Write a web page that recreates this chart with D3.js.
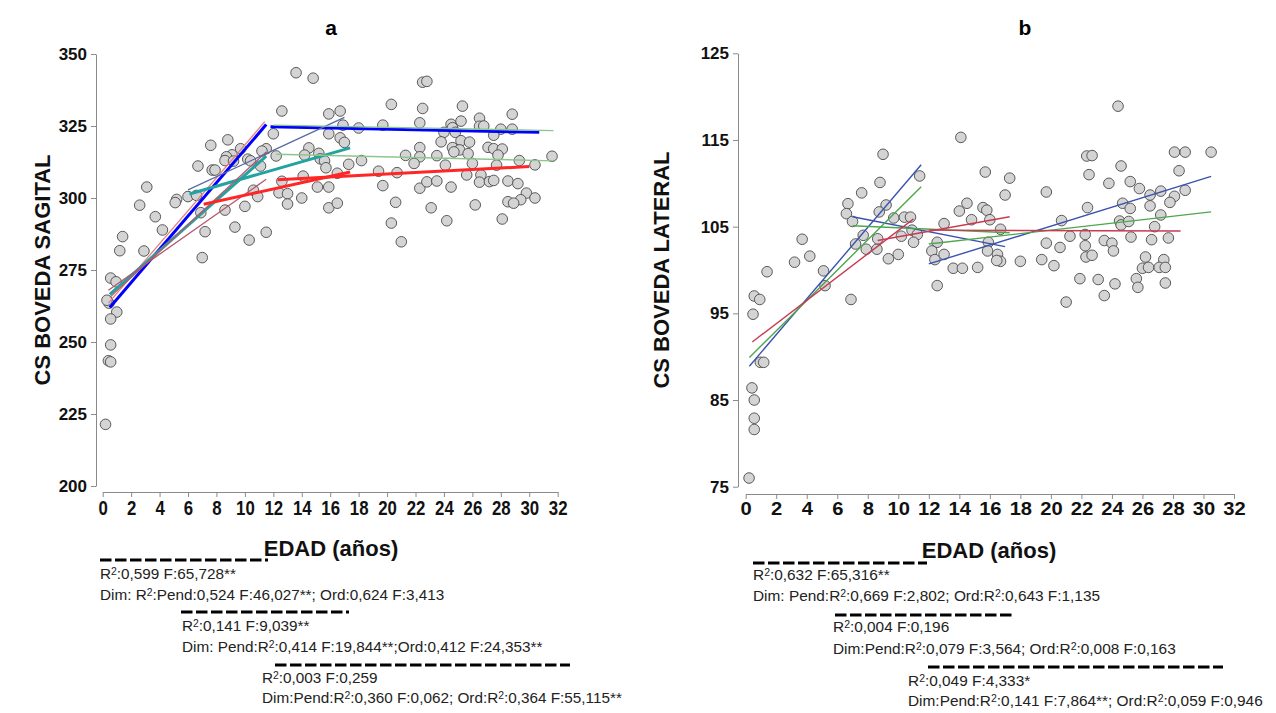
<!DOCTYPE html>
<html>
<head>
<meta charset="utf-8">
<script src="https://cdn.jsdelivr.net/npm/d3@7"></script>
<style>
  body { margin: 0; background: #fff; }
  svg { font-family: "Liberation Sans", Arial, sans-serif; }
</style>
</head>
<body>
<div class="canvas"></div>
<script>
// ---- data ----
// panel a: age (years) and sagittal vault size
const ageA = [13.6, 14.8, 12.6, 15.9, 12.0, 15.9, 8.8, 7.6, 11.5, 11.2, 9.7, 9.1, 8.7, 8.6, 9.2,
  14.5, 14.2, 15.2, 15.3, 15.6, 12.2, 10.2, 10.4, 11.1, 15.7, 6.7, 7.7, 7.9, 14.1, 12.6, 15.9,
  15.1, 3.1, 10.6, 12.4, 13.0, 10.9, 14.0, 6.0, 6.6, 5.2, 5.1, 2.6, 13.0, 15.9, 10.0, 8.6, 6.9,
  3.7, 4.2, 9.3, 7.2, 11.5, 10.3, 1.4, 1.2, 2.9, 7.0, 0.56, 0.94, 0.44, 0.3, 0.99, 0.56, 0.56,
  0.4, 0.56, 0.2, 22.5, 22.8, 20.3, 22.5, 25.3, 28.8, 26.5, 16.7, 16.9, 18.0, 19.7, 22.3, 24.5,
  24.6, 24.8, 25.2, 24.0, 26.5, 26.8, 28.0, 27.5, 28.8, 16.7, 17.0, 23.8, 25.2, 25.8, 22.3,
  24.6, 25.1, 24.7, 27.1, 27.5, 28.1, 25.7, 27.8, 21.3, 22.3, 23.5, 31.6, 29.3, 30.4, 21.9,
  24.1, 26.0, 27.7, 18.2, 17.3, 19.4, 20.7, 16.5, 25.6, 26.6, 19.7, 22.3, 22.8, 23.5, 24.5,
  26.5, 27.2, 27.5, 28.5, 29.2, 29.8, 30.4, 29.4, 28.5, 28.9, 16.5, 20.6, 23.1, 26.2, 20.3,
  24.2, 28.1, 21.0];
const sagital = [343.5, 341.6, 330.2, 329.2, 322.3, 322.3, 320.2, 318.3, 317.1, 316.3, 317.1,
  315.0, 314.3, 313.0, 312.8, 317.4, 314.9, 315.5, 313.6, 312.9, 314.6, 313.5, 312.9, 311.1,
  310.5, 311.1, 309.7, 309.7, 307.6, 305.8, 303.8, 303.8, 303.8, 302.7, 301.8, 301.5, 300.5,
  300.0, 300.5, 300.9, 299.5, 298.4, 297.5, 297.9, 296.6, 297.1, 295.8, 294.9, 293.5, 288.9,
  289.9, 288.3, 288.1, 285.4, 286.6, 281.7, 281.6, 279.3, 272.2, 270.9, 263.5, 264.5, 260.4,
  258.0, 249.0, 243.5, 243.1, 221.4, 340.2, 340.5, 332.5, 331.1, 331.9, 329.1, 327.7, 330.2,
  325.3, 324.3, 325.3, 326.1, 325.6, 324.4, 322.8, 326.7, 322.8, 324.9, 325.0, 323.9, 321.8,
  323.9, 320.9, 319.3, 319.5, 319.9, 319.4, 317.5, 317.5, 316.7, 316.0, 317.6, 317.1, 317.0,
  315.4, 314.9, 314.8, 314.3, 314.7, 314.5, 313.0, 311.5, 312.0, 311.4, 312.0, 311.4, 313.0,
  311.7, 309.3, 308.8, 308.6, 308.0, 308.0, 304.3, 303.4, 305.6, 305.9, 303.8, 305.5, 305.7,
  306.1, 305.9, 305.0, 301.7, 300.0, 299.4, 298.7, 298.2, 298.2, 298.5, 296.6, 297.6, 291.3,
  292.1, 292.7, 284.8];

// panel b: age (years) and lateral vault size
const ageB = [9.0, 11.4, 8.8, 7.6, 6.7, 6.6, 7.0, 9.2, 8.75, 9.7, 10.4, 10.8, 13.0, 7.2, 7.7,
  7.9, 8.6, 8.65, 10.2, 10.9, 11.25, 11.0, 9.35, 10.0, 12.55, 12.2, 12.4, 13.0, 12.55, 3.7,
  3.2, 4.2, 1.4, 5.1, 5.2, 24.4, 14.1, 22.35, 22.7, 28.1, 28.8, 30.5, 24.6, 28.4, 22.5, 15.7,
  17.3, 17.0, 19.7, 23.8, 25.2, 25.8, 26.5, 27.2, 28.1, 28.8, 27.8, 14.5, 14.0, 15.55, 15.8,
  14.8, 16.0, 16.7, 20.7, 22.4, 24.7, 25.2, 26.5, 27.2, 24.5, 24.6, 25.1, 26.8, 22.25, 21.25,
  25.25, 26.6, 27.7, 23.5, 24.0, 24.1, 22.25, 19.7, 20.6, 15.9, 15.85, 16.5, 16.7, 16.45,
  18.0, 19.4, 20.2, 22.3, 22.7, 26.2, 27.4, 26.0, 26.4, 27.1, 27.5, 13.6, 14.2, 15.2, 21.9,
  23.1, 24.2, 25.6, 25.7, 27.5, 21.0, 23.5, 6.9, 0.56, 0.92, 0.48, 0.96, 1.18, 0.41, 0.56,
  0.56, 0.56, 0.22];
const lateral = [113.35, 110.85, 110.1, 108.9, 107.65, 106.5, 105.6, 107.5, 106.7, 106.0,
  106.1, 106.1, 105.35, 103.0, 104.0, 102.4, 102.4, 103.6, 103.9, 104.6, 104.1, 103.2, 101.3,
  101.8, 103.2, 102.2, 101.2, 101.8, 98.2, 103.55, 100.9, 101.6, 99.8, 99.9, 98.2, 118.9,
  115.3, 113.15, 113.2, 113.6, 113.6, 113.6, 112.0, 111.45, 111.0, 111.3, 110.6, 108.65,
  109.0, 110.0, 110.2, 109.4, 108.65, 109.1, 108.5, 109.2, 107.8, 107.7, 106.8, 107.2, 106.9,
  105.8, 105.8, 104.7, 105.7, 107.2, 107.7, 107.1, 107.4, 106.35, 105.65, 105.2, 105.6,
  105.0, 104.1, 103.9, 103.8, 103.5, 103.7, 103.4, 103.1, 102.2, 102.8, 103.1, 102.6, 103.2,
  102.2, 101.8, 101.0, 101.1, 101.0, 101.2, 100.5, 101.5, 101.7, 101.5, 101.2, 100.2, 100.3,
  100.3, 100.3, 100.2, 100.2, 100.3, 99.0, 98.9, 98.4, 99.0, 98.0, 98.5, 96.3, 97.05, 96.6,
  97.0, 96.6, 94.9, 89.35, 89.35, 86.4, 85.0, 82.9, 81.6, 76.0];

// fitted segments [x0, y0, x1, y1] per series
const fitsA = {
  s1: [[0.5, 262.0, 11.5, 325.5], [11.8, 324.7, 30.7, 322.8]],
  s2: [[0.4, 263.5, 11.4, 326.5]],
  s3: [[0.5, 266.5, 11.5, 314.5], [6.1, 301.4, 17.4, 317.4]],
  s4: [[0.5, 265.5, 11.5, 316.0], [0.4, 268.0, 11.5, 306.5]],
  s5: [[6.0, 302.8, 17.0, 328.0]],
  s6: [[7.1, 297.8, 17.4, 309.0], [12.3, 306.3, 30.0, 310.9]],
  s7: [[12.0, 325.3, 31.7, 323.4], [12.2, 315.2, 31.7, 312.9]],
};
const fitsB = {
  blue: [[0.24, 88.9, 11.5, 112.15], [7.0, 106.15, 17.0, 102.7], [12.0, 100.7, 30.5, 110.8]],
  green: [[0.24, 89.9, 11.5, 109.6], [7.0, 105.1, 17.3, 104.3], [12.0, 103.0, 30.5, 106.7]],
  red: [[0.43, 91.7, 11.0, 105.9], [8.65, 103.4, 17.3, 106.15], [12.0, 104.6, 28.5, 104.5]],
};

const xTicks = [0, 2, 4, 6, 8, 10, 12, 14, 16, 18, 20, 22, 24, 26, 28, 30, 32];
const yTicksA = [200, 225, 250, 275, 300, 325, 350];
const yTicksB = [75, 85, 95, 105, 115, 125];

const notesA = [
  ["R²:0,599 F:65,728**", "Dim: R²:Pend:0,524 F:46,027**; Ord:0,624 F:3,413"],
  ["R²:0,141 F:9,039**", "Dim: Pend:R²:0,414 F:19,844**;Ord:0,412 F:24,353**"],
  ["R²:0,003 F:0,259", "Dim:Pend:R²:0,360 F:0,062; Ord:R²:0,364 F:55,115**"],
];
const notesB = [
  ["R²:0,632 F:65,316**", "Dim: Pend:R²:0,669 F:2,802; Ord:R²:0,643 F:1,135"],
  ["R²:0,004 F:0,196", "Dim:Pend:R²:0,079 F:3,564; Ord:R²:0,008 F:0,163"],
  ["R²:0,049 F:4,333*", "Dim:Pend:R²:0,141 F:7,864**; Ord:R²:0,059 F:0,946"],
];

// ---- styles ----
const styleA = {
  s1: { color: "#0000ff", width: 3 },
  s2: { color: "#e58080", width: 1.3 },
  s3: { color: "#22a2a0", width: 3 },
  s4: { color: "#b8566c", width: 1.3 },
  s5: { color: "#5a68a8", width: 1.3 },
  s6: { color: "#ff2626", width: 3 },
  s7: { color: "#8cc68c", width: 1.4 },
};
const styleB = {
  blue: { color: "#3a52ae", width: 1.4 },
  green: { color: "#4ea64e", width: 1.4 },
  red: { color: "#c93a52", width: 1.4 },
};

const svg = d3
  .select(".canvas")
  .append("svg")
  .attr("width", 1276)
  .attr("height", 713);

// panel layouts (pixel positions of the plot frames)
const panels = [
  {
    title: "a", titleX: 331, ylabel: "CS BOVEDA SAGITAL", ylabelX: 42,
    x: d3.scaleLinear().domain([0, 32]).range([102.7, 557.7]),
    y: d3.scaleLinear().domain([200, 350]).range([486, 54]),
    yAxisX: 96, xAxisY: 492, yTicks: yTicksA, xlabelX: 331, xlabelY: 556,
    xFont: 21, xSqueeze: 0.8, yFont: 17, ySqueeze: 1,
    ages: ageA, values: sagital, fits: fitsA, styles: styleA,
    notes: notesA, noteFont: 15.3,
    dashes: [[100, 268, 560], [181, 349, 612], [275, 570, 665]],
    noteX: [100, 182, 262], noteY: [[579, 600], [631, 652], [683, 703]],
  },
  {
    title: "b", titleX: 1025, ylabel: "CS BOVEDA LATERAL", ylabelX: 661,
    x: d3.scaleLinear().domain([0, 32]).range([745.7, 1234]),
    y: d3.scaleLinear().domain([75, 125]).range([486.7, 53.3]),
    yAxisX: 738, xAxisY: 494, yTicks: yTicksB, xlabelX: 989, xlabelY: 558,
    xFont: 18, xSqueeze: 1.12, yFont: 17, ySqueeze: 1,
    ages: ageB, values: lateral, fits: fitsB, styles: styleB,
    notes: notesB, noteFont: 15.4,
    dashes: [[753, 927, 563], [835, 1015, 615], [928, 1223, 667]],
    noteX: [753, 833, 908], noteY: [[580, 601], [632, 654], [686, 706]],
  },
];

const axisColor = "#8a8a8a";

// writes a note line, turning every "²" into a raised small 2
const writeNote = (sel, txt) => {
  const parts = txt.split("²");
  parts.forEach((part, k) => {
    if (k > 0) {
      sel.append("tspan").attr("font-size", "0.68em").attr("dy", "-0.42em").text("2");
      sel.append("tspan").attr("dy", "0.29em").text(part);
    } else {
      sel.append("tspan").text(part);
    }
  });
};

panels.forEach((p) => {
  const g = svg.append("g");

  // x axis
  const xAxis = g
    .append("g")
    .attr("transform", `translate(0, ${p.xAxisY})`)
    .call(d3.axisBottom(p.x).tickValues(xTicks).tickSize(5).tickSizeOuter(0).tickPadding(3));

  // y axis
  const yAxis = g
    .append("g")
    .attr("transform", `translate(${p.yAxisX}, 0)`)
    .call(d3.axisLeft(p.y).tickValues(p.yTicks).tickSize(5).tickSizeOuter(0).tickPadding(4));

  [xAxis, yAxis].forEach((ax) => {
    ax.select(".domain").attr("stroke", axisColor);
    ax.selectAll(".tick line").attr("stroke", axisColor);
    ax.selectAll(".tick text")
      .attr("fill", "#111")
      .attr("font-weight", "bold")
      .attr("font-family", '"Liberation Sans", Arial, sans-serif');
  });
  xAxis.selectAll(".tick text")
    .attr("font-size", p.xFont)
    .attr("transform", `scale(${p.xSqueeze}, 1)`);
  yAxis.selectAll(".tick text")
    .attr("font-size", p.yFont)
    .attr("transform", `scale(${p.ySqueeze}, 1)`);

  // points
  g.append("g")
    .selectAll("circle")
    .data(p.ages.map((a, i) => [a, p.values[i]]))
    .enter()
    .append("circle")
    .attr("cx", (d) => p.x(d[0]))
    .attr("cy", (d) => p.y(d[1]))
    .attr("r", 5.3)
    .attr("fill", "#d4d4d4")
    .attr("stroke", "#4a4a4a")
    .attr("stroke-width", 0.9);

  // fitted lines
  Object.entries(p.fits).forEach(([key, segs]) => {
    g.append("g")
      .selectAll("line")
      .data(segs)
      .enter()
      .append("line")
      .attr("x1", (d) => p.x(d[0]))
      .attr("y1", (d) => p.y(d[1]))
      .attr("x2", (d) => p.x(d[2]))
      .attr("y2", (d) => p.y(d[3]))
      .attr("stroke", p.styles[key].color)
      .attr("stroke-width", p.styles[key].width);
  });

  // titles
  g.append("text")
    .attr("x", p.titleX)
    .attr("y", 35)
    .attr("text-anchor", "middle")
    .attr("font-size", 21)
    .attr("font-weight", "bold")
    .text(p.title);

  g.append("text")
    .attr("transform", `translate(${p.ylabelX + 8}, 270) rotate(-90)`)
    .attr("text-anchor", "middle")
    .attr("font-size", 22)
    .attr("font-weight", "bold")
    .attr("fill", "#111")
    .text(p.ylabel);

  g.append("text")
    .attr("x", p.xlabelX)
    .attr("y", p.xlabelY)
    .attr("text-anchor", "middle")
    .attr("font-size", 22)
    .attr("font-weight", "bold")
    .attr("fill", "#111")
    .text("EDAD (años)");

  // notes under the chart
  p.dashes.forEach((d) => {
    g.append("line")
      .attr("x1", d[0])
      .attr("x2", d[1])
      .attr("y1", d[2])
      .attr("y2", d[2])
      .attr("stroke", "#000")
      .attr("stroke-width", 3.2)
      .attr("stroke-dasharray", "11.5 3.5");
  });

  p.notes.forEach((lines, i) => {
    lines.forEach((txt, j) => {
      const t = g.append("text")
        .attr("x", p.noteX[i])
        .attr("y", p.noteY[i][j])
        .attr("font-size", p.noteFont)
        .attr("fill", "#222");
      writeNote(t, txt);
    });
  });
});
</script>
</body>
</html>
